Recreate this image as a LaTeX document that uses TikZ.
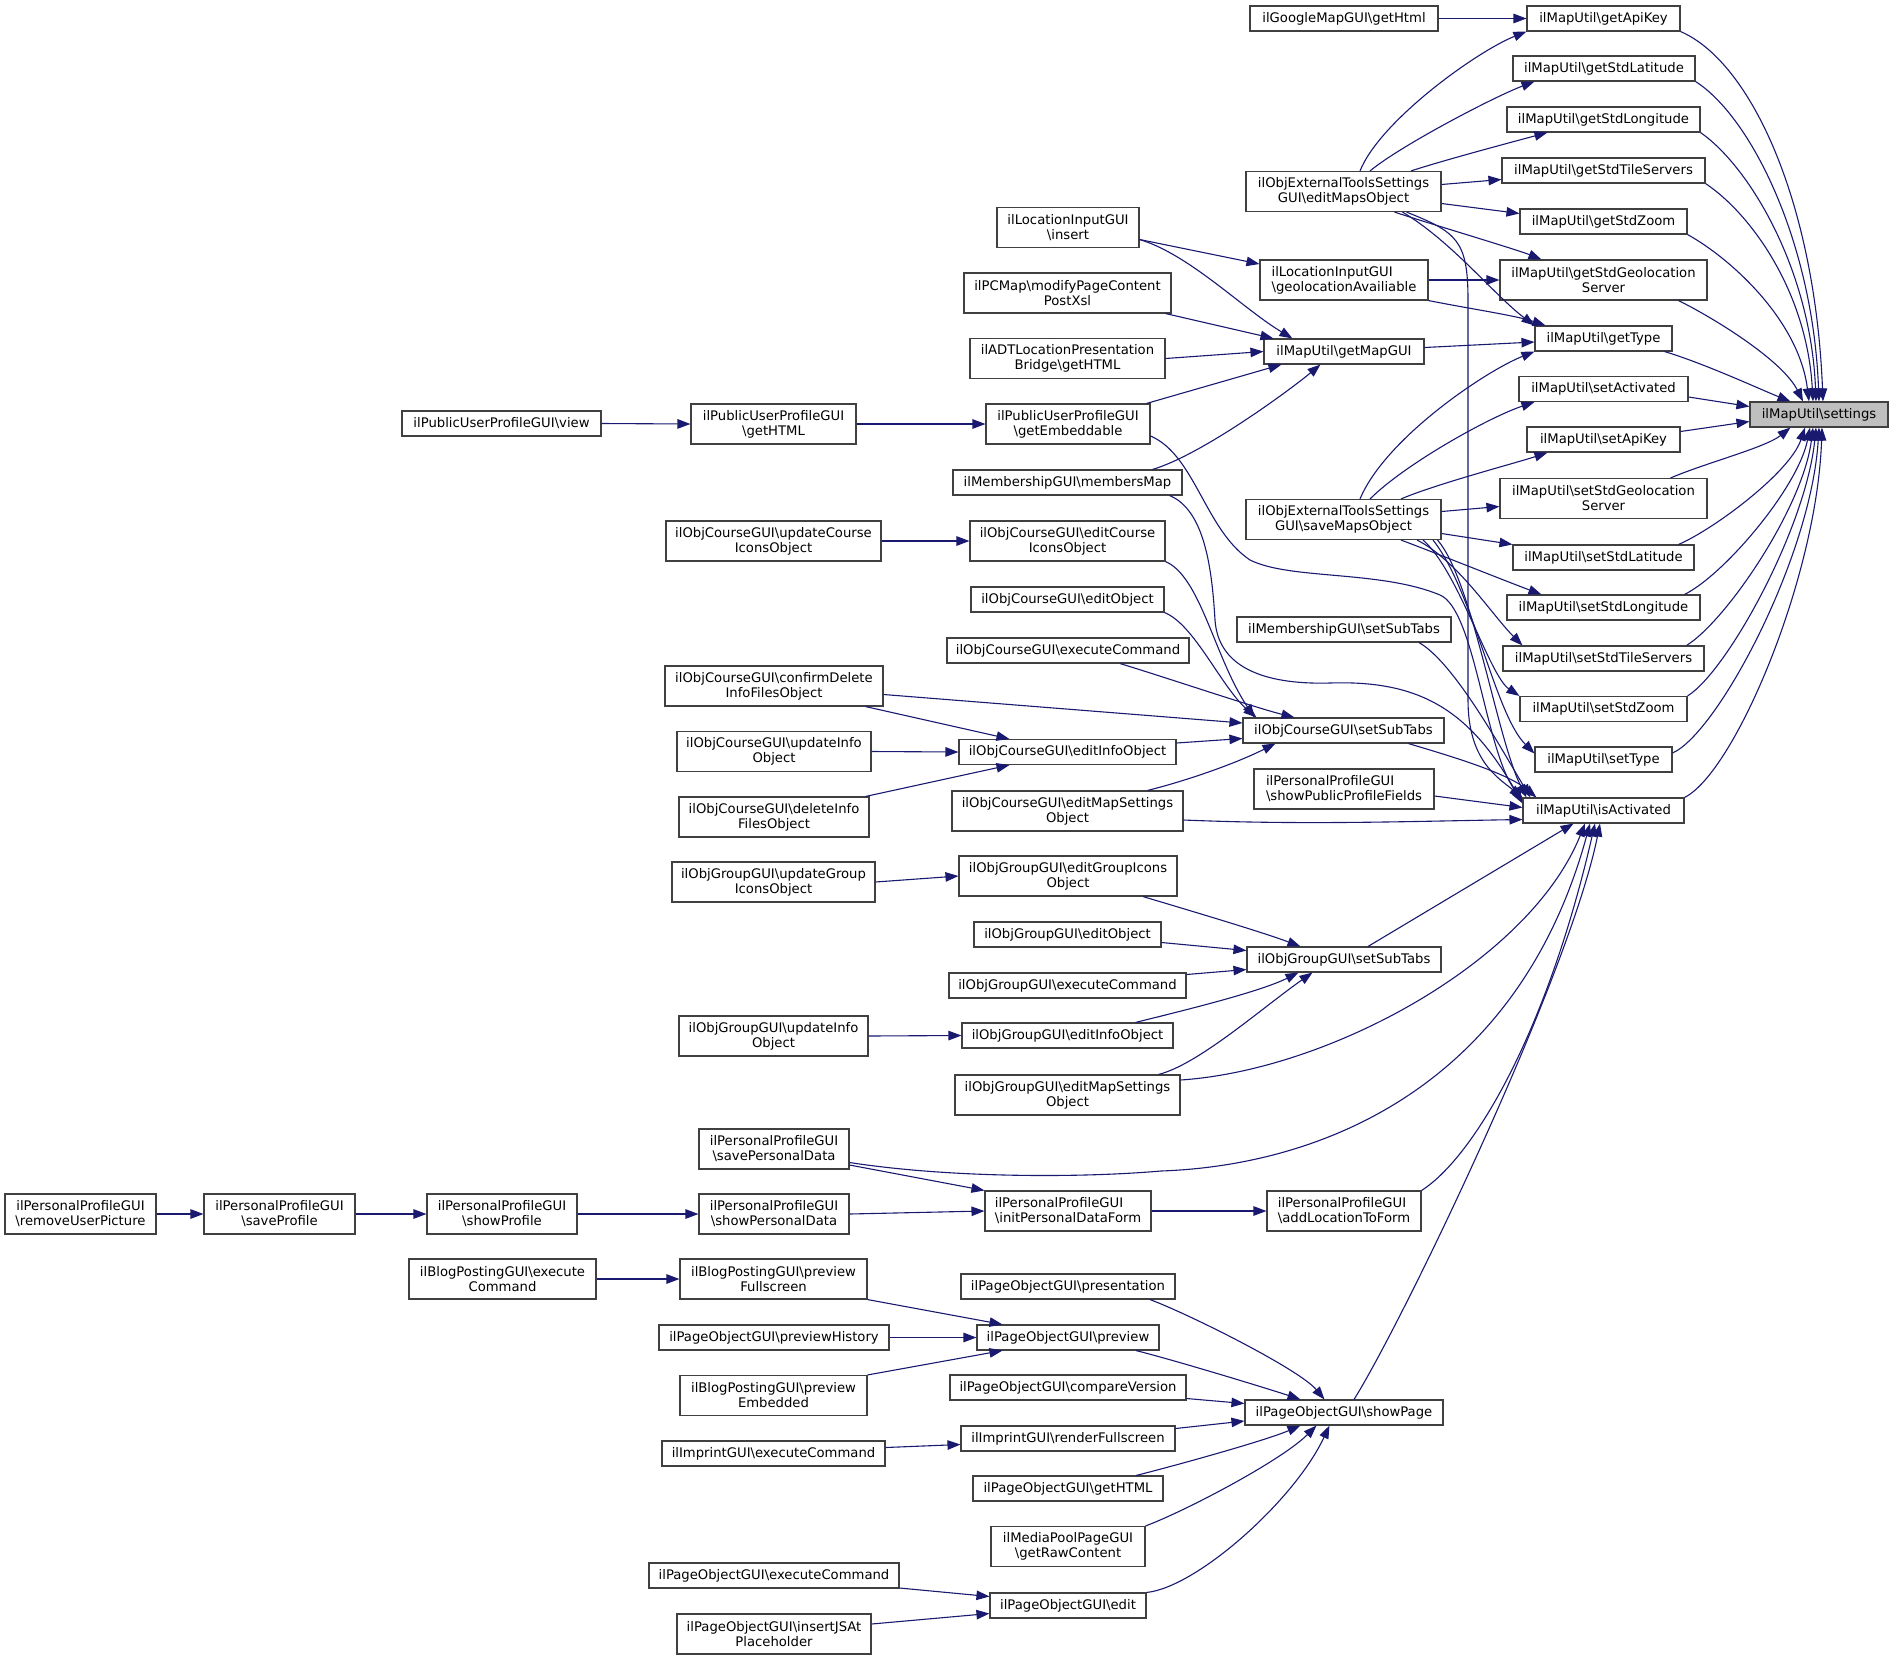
\documentclass[tikz,border=0pt]{standalone}
\usepackage{fontspec}
\setmainfont{DejaVu Sans}
\usetikzlibrary{arrows.meta}
\tikzset{>={Triangle[length=13pt,width=9.5pt]}}
\newcommand{\bsl}{\textbackslash}
\definecolor{cedge}{HTML}{191970}
\definecolor{cbox}{gray}{.25}
\definecolor{croot}{gray}{.75}
\tikzset{
    fnbox/.style={draw=cbox, line width=1.1pt, fill=white, font=\fontsize{13.2}{15}\selectfont, align=center, inner sep=2pt, minimum height=25pt},
    dbl/.style={minimum height=40pt},
    calls/.style={->, draw=cedge, line width=1.1pt}
}

\begin{document}
\begin{tikzpicture}[x=1pt, y=-1pt]
    \useasboundingbox (0,0) rectangle (1893,1663);
    \node[fnbox, fill=croot, minimum width=138pt] (settings) at (1819,414.5) {ilMapUtil\bsl settings};
    % ilMapUtil
    \node[fnbox, minimum width=153pt] (getApiKey) at (1603.5,18.5) {ilMapUtil\bsl getApiKey};
    \node[fnbox, minimum width=182pt] (getStdLatitude) at (1604,68.5) {ilMapUtil\bsl getStdLatitude};
    \node[fnbox, minimum width=193pt] (getStdLongitude) at (1603.5,119.5) {ilMapUtil\bsl getStdLongitude};
    \node[fnbox, minimum width=203pt] (getStdTileServers) at (1603.5,170.5) {ilMapUtil\bsl getStdTileServers};
    \node[fnbox, minimum width=167pt] (getStdZoom) at (1603.5,221.5) {ilMapUtil\bsl getStdZoom};
    \node[fnbox, dbl, minimum width=207pt] (getStdGeo) at (1603.5,280) {ilMapUtil\bsl getStdGeolocation\\Server};
    \node[fnbox, minimum width=137pt] (getType) at (1603.5,338.5) {ilMapUtil\bsl getType};
    \node[fnbox, minimum width=169pt] (setActivated) at (1603.5,389) {ilMapUtil\bsl setActivated};
    \node[fnbox, minimum width=153pt] (setApiKey) at (1603.5,439.5) {ilMapUtil\bsl setApiKey};
    \node[fnbox, dbl, minimum width=207pt] (setStdGeo) at (1603.5,498.5) {ilMapUtil\bsl setStdGeolocation\\Server};
    \node[fnbox, minimum width=181pt] (setStdLatitude) at (1603.5,557.5) {ilMapUtil\bsl setStdLatitude};
    \node[fnbox, minimum width=193pt] (setStdLongitude) at (1603.5,607.5) {ilMapUtil\bsl setStdLongitude};
    \node[fnbox, minimum width=201pt] (setStdTileServers) at (1603.5,658.5) {ilMapUtil\bsl setStdTileServers};
    \node[fnbox, minimum width=167pt] (setStdZoom) at (1603.5,709) {ilMapUtil\bsl setStdZoom};
    \node[fnbox, minimum width=137pt] (setType) at (1603.5,759.5) {ilMapUtil\bsl setType};
    \node[fnbox, minimum width=161pt] (isActivated) at (1603.5,810.5) {ilMapUtil\bsl isActivated};
    % third column
    \node[fnbox, minimum width=188pt] (googleHtml) at (1344,18.5) {ilGoogleMapGUI\bsl getHtml};
    \node[fnbox, dbl, minimum width=195pt] (editMaps) at (1343.5,191.5) {ilObjExternalToolsSettings\\GUI\bsl editMapsObject};
    \node[fnbox, dbl, align=left, minimum width=168pt] (geoAvail) at (1344,280) {ilLocationInputGUI\\\bsl geolocationAvailiable};
    \node[fnbox, minimum width=160pt] (getMapGUI) at (1344,351.5) {ilMapUtil\bsl getMapGUI};
    \node[fnbox, dbl, minimum width=195pt] (saveMaps) at (1343.5,519.5) {ilObjExternalToolsSettings\\GUI\bsl saveMapsObject};
    \node[fnbox, minimum width=214pt] (membSubTabs) at (1344,629.5) {ilMembershipGUI\bsl setSubTabs};
    \node[fnbox, minimum width=201pt] (courseSubTabs) at (1343.5,730.5) {ilObjCourseGUI\bsl setSubTabs};
    \node[fnbox, dbl, align=left, minimum width=180pt] (showPublic) at (1344,789) {ilPersonalProfileGUI\\\bsl showPublicProfileFields};
    \node[fnbox, minimum width=194pt] (groupSubTabs) at (1344,959.5) {ilObjGroupGUI\bsl setSubTabs};
    \node[fnbox, dbl, align=left, minimum width=154pt] (addLocation) at (1344,1211) {ilPersonalProfileGUI\\\bsl addLocationToForm};
    \node[fnbox, minimum width=198pt] (showPage) at (1344,1412.5) {ilPageObjectGUI\bsl showPage};
    % fourth column
    \node[fnbox, dbl, minimum width=142pt] (insert) at (1068,227.5) {ilLocationInputGUI\\\bsl insert};
    \node[fnbox, dbl, minimum width=207pt] (modifyPC) at (1067.5,293) {ilPCMap\bsl modifyPageContent\\PostXsl};
    \node[fnbox, dbl, minimum width=195pt] (adtLoc) at (1067.5,358.5) {ilADTLocationPresentation\\Bridge\bsl getHTML};
    \node[fnbox, dbl, minimum width=164pt] (getEmbeddable) at (1068,424) {ilPublicUserProfileGUI\\\bsl getEmbeddable};
    \node[fnbox, minimum width=229pt] (membersMap) at (1067.5,482.5) {ilMembershipGUI\bsl membersMap};
    \node[fnbox, dbl, minimum width=195pt] (editCourseIcons) at (1067.5,541) {ilObjCourseGUI\bsl editCourse\\IconsObject};
    \node[fnbox, minimum width=193pt] (courseEditObj) at (1067.5,599.5) {ilObjCourseGUI\bsl editObject};
    \node[fnbox, minimum width=242pt] (courseExec) at (1068,650.5) {ilObjCourseGUI\bsl executeCommand};
    \node[fnbox, minimum width=217pt] (courseEditInfo) at (1067.5,752) {ilObjCourseGUI\bsl editInfoObject};
    \node[fnbox, dbl, minimum width=231pt] (courseEditMap) at (1067.5,811) {ilObjCourseGUI\bsl editMapSettings\\Object};
    \node[fnbox, dbl, minimum width=218pt] (editGroupIcons) at (1068,876) {ilObjGroupGUI\bsl editGroupIcons\\Object};
    \node[fnbox, minimum width=187pt] (groupEditObj) at (1067.5,934.5) {ilObjGroupGUI\bsl editObject};
    \node[fnbox, minimum width=237pt] (groupExec) at (1067.5,985.5) {ilObjGroupGUI\bsl executeCommand};
    \node[fnbox, minimum width=211pt] (groupEditInfo) at (1067.5,1035.5) {ilObjGroupGUI\bsl editInfoObject};
    \node[fnbox, dbl, minimum width=225pt] (groupEditMap) at (1067.5,1095) {ilObjGroupGUI\bsl editMapSettings\\Object};
    \node[fnbox, dbl, align=left, minimum width=166pt] (initPDF) at (1068,1211) {ilPersonalProfileGUI\\\bsl initPersonalDataForm};
    \node[fnbox, minimum width=214pt] (presentation) at (1068,1286.5) {ilPageObjectGUI\bsl presentation};
    \node[fnbox, minimum width=182pt] (preview) at (1068,1337.5) {ilPageObjectGUI\bsl preview};
    \node[fnbox, minimum width=236pt] (compareVersion) at (1068,1387.5) {ilPageObjectGUI\bsl compareVersion};
    \node[fnbox, minimum width=214pt] (renderFull) at (1068,1438.5) {ilImprintGUI\bsl renderFullscreen};
    \node[fnbox, minimum width=190pt] (pageHTML) at (1068,1488.5) {ilPageObjectGUI\bsl getHTML};
    \node[fnbox, dbl, minimum width=154pt] (rawContent) at (1068,1546.5) {ilMediaPoolPageGUI\\\bsl getRawContent};
    \node[fnbox, minimum width=156pt] (edit) at (1068,1605.5) {ilPageObjectGUI\bsl edit};
    % fifth column
    \node[fnbox, dbl, minimum width=165pt] (publicHTML) at (773.5,424) {ilPublicUserProfileGUI\\\bsl getHTML};
    \node[fnbox, dbl, minimum width=215pt] (updateCourseIcons) at (773.5,541) {ilObjCourseGUI\bsl updateCourse\\IconsObject};
    \node[fnbox, dbl, minimum width=218pt] (confirmDelete) at (774,686) {ilObjCourseGUI\bsl confirmDelete\\InfoFilesObject};
    \node[fnbox, dbl, minimum width=194pt] (courseUpdateInfo) at (774,751.5) {ilObjCourseGUI\bsl updateInfo\\Object};
    \node[fnbox, dbl, minimum width=190pt] (deleteInfo) at (774,817) {ilObjCourseGUI\bsl deleteInfo\\FilesObject};
    \node[fnbox, dbl, minimum width=203pt] (updateGroupIcons) at (773.5,882) {ilObjGroupGUI\bsl updateGroup\\IconsObject};
    \node[fnbox, dbl, minimum width=189pt] (groupUpdateInfo) at (773.5,1036) {ilObjGroupGUI\bsl updateInfo\\Object};
    \node[fnbox, dbl, minimum width=150pt] (savePD) at (774,1149) {ilPersonalProfileGUI\\\bsl savePersonalData};
    \node[fnbox, dbl, minimum width=150pt] (showPD) at (774,1214) {ilPersonalProfileGUI\\\bsl showPersonalData};
    \node[fnbox, dbl, minimum width=187pt] (previewFull) at (773.5,1279) {ilBlogPostingGUI\bsl preview\\Fullscreen};
    \node[fnbox, minimum width=230pt] (previewHistory) at (774,1337.5) {ilPageObjectGUI\bsl previewHistory};
    \node[fnbox, dbl, minimum width=187pt] (previewEmb) at (773.5,1395.5) {ilBlogPostingGUI\bsl preview\\Embedded};
    \node[fnbox, minimum width=223pt] (imprintExec) at (773.5,1453.5) {ilImprintGUI\bsl executeCommand};
    \node[fnbox, minimum width=250pt] (pageExec) at (774,1575.5) {ilPageObjectGUI\bsl executeCommand};
    \node[fnbox, dbl, minimum width=194pt] (insertJS) at (774,1634) {ilPageObjectGUI\bsl insertJSAt\\Placeholder};
    % left columns
    \node[fnbox, minimum width=199pt] (view) at (501.5,423.5) {ilPublicUserProfileGUI\bsl view};
    \node[fnbox, dbl, minimum width=150pt] (showProfile) at (502,1214) {ilPersonalProfileGUI\\\bsl showProfile};
    \node[fnbox, dbl, minimum width=187pt] (blogExec) at (502.5,1279) {ilBlogPostingGUI\bsl execute\\Command};
    \node[fnbox, dbl, minimum width=151pt] (saveProfile) at (279.5,1214) {ilPersonalProfileGUI\\\bsl saveProfile};
    \node[fnbox, dbl, minimum width=151pt] (removePic) at (80.5,1214) {ilPersonalProfileGUI\\\bsl removeUserPicture};

    % into settings
    \draw[calls] (getApiKey.south east) .. controls +(70,30) and +(-8,-200) .. ([xshift=4pt]settings.north);
    \draw[calls] (getStdLatitude.south east) .. controls +(55,35) and +(-6,-160) .. (settings.north);
    \draw[calls] (getStdLongitude.south east) .. controls +(50,35) and +(-5,-130) .. ([xshift=-3pt]settings.north);
    \draw[calls] (getStdTileServers.south east) .. controls +(45,30) and +(-6,-110) .. ([xshift=-6pt]settings.north);
    \draw[calls] (getStdZoom.south east) .. controls +(45,25) and +(-10,-80) .. ([xshift=-10pt]settings.north);
    \draw[calls] ([xshift=-29pt]getStdGeo.south east) .. controls +(40,20) and +(-20,-40) .. ([xshift=-16pt]settings.north);
    \draw[calls] ([xshift=-8pt]getType.south east) .. controls +(40,12) and +(-30,-12) .. ([xshift=41pt]settings.north west);
    \draw[calls] ([yshift=-8pt]setActivated.east) -- ([yshift=8pt]settings.west);
    \draw[calls] ([yshift=8pt]setApiKey.east) -- ([yshift=-7pt]settings.west);
    \draw[calls] ([xshift=-37pt]setStdGeo.north east) .. controls +(35,-15) and +(-25,20) .. ([xshift=41pt]settings.south west);
    \draw[calls] ([xshift=-16pt]setStdLatitude.north east) .. controls +(35,-15) and +(-15,45) .. ([xshift=-14pt]settings.south);
    \draw[calls] ([xshift=-16pt]setStdLongitude.north east) .. controls +(40,-20) and +(-12,60) .. ([xshift=-9pt]settings.south);
    \draw[calls] ([xshift=-18pt]setStdTileServers.north east) .. controls +(40,-25) and +(-10,80) .. ([xshift=-6pt]settings.south);
    \draw[calls] (setStdZoom.north east) .. controls +(40,-25) and +(-10,100) .. ([xshift=-3pt]settings.south);
    \draw[calls] ([yshift=6.5pt]setType.east) .. controls +(45,-20) and +(-8,130) .. (settings.south);
    \draw[calls] (isActivated.north east) .. controls +(50,-25) and +(-5,150) .. ([xshift=3pt]settings.south);

    % editMapsObject, saveMapsObject
    \draw[calls] (googleHtml.east) -- (getApiKey.west);
    \draw[calls] ([xshift=16.5pt]editMaps.north) .. controls +(20,-50) and +(-50,20) .. (getApiKey.south west);
    \draw[calls] ([xshift=26.5pt]editMaps.north) .. controls +(30,-25) and +(-40,15) .. ([xshift=22pt]getStdLatitude.south west);
    \draw[calls] ([xshift=67.5pt]editMaps.north) .. controls +(30,-10) and +(-30,8) .. ([xshift=41pt]getStdLongitude.south west);
    \draw[calls] ([yshift=7pt]editMaps.east) -- ([yshift=-9pt]getStdTileServers.west);
    \draw[calls] ([yshift=-12pt]editMaps.east) -- ([yshift=8pt]getStdZoom.west);
    \draw[calls] ([xshift=51pt]editMaps.south) .. controls +(30,10) and +(-25,-10) .. ([xshift=42pt]getStdGeo.north west);
    \draw[calls] ([xshift=59pt]editMaps.south) .. controls +(50,30) and +(-40,-30) .. (getType.north west);
    \draw[calls] ([xshift=63pt]editMaps.south) .. controls +(50,20) and +(0,-60) .. (1468,300) -- (1468,700) .. controls +(0,60) and +(-25,-20) .. (isActivated.north west);
    \draw[calls] (geoAvail.east) -- (getStdGeo.west);
    \draw[calls] (geoAvail.south east) .. controls +(40,8) and +(-30,-10) .. ([xshift=11pt]getType.north west);
    \draw[calls] ([yshift=4pt]getMapGUI.east) -- ([yshift=-3.5pt]getType.west);
    \draw[calls] ([xshift=16.5pt]saveMaps.north) .. controls +(25,-60) and +(-50,20) .. (getType.south west);
    \draw[calls] ([xshift=26.5pt]saveMaps.north) .. controls +(35,-35) and +(-45,15) .. ([xshift=16pt]setActivated.south west);
    \draw[calls] ([xshift=57.5pt]saveMaps.north) .. controls +(35,-15) and +(-30,10) .. ([xshift=21pt]setApiKey.south west);
    \draw[calls] ([yshift=8pt]saveMaps.east) -- ([yshift=-8pt]setStdGeo.west);
    \draw[calls] ([yshift=-14pt]saveMaps.east) -- (setStdLatitude.north west);
    \draw[calls] ([xshift=57.5pt]saveMaps.south) .. controls +(40,15) and +(-40,-15) .. ([xshift=35pt]setStdLongitude.north west);
    \draw[calls] ([xshift=73.5pt]saveMaps.south) .. controls +(40,20) and +(-30,-30) .. ([xshift=20pt]setStdTileServers.north west);
    \draw[calls] ([xshift=79.5pt]saveMaps.south) .. controls +(35,30) and +(-30,-20) .. (setStdZoom.north west);
    \draw[calls] ([xshift=89.5pt]saveMaps.south) .. controls +(40,50) and +(-40,-40) .. ([yshift=6pt]setType.west);
    \draw[calls] ([xshift=94pt]saveMaps.south) .. controls +(35,40) and +(-30,-60) .. ([xshift=4pt]isActivated.north west);

    % getMapGUI
    \draw[calls] ([yshift=-12pt]insert.east) -- ([yshift=16pt]geoAvail.west);
    \draw[calls] ([yshift=-12pt]insert.east) .. controls +(50,15) and +(-50,-30) .. ([xshift=29pt]getMapGUI.north west);
    \draw[calls] ([xshift=-6pt]modifyPC.south east) -- ([xshift=10pt]getMapGUI.north west);
    \draw[calls] (adtLoc.east) -- (getMapGUI.west);
    \draw[calls] ([xshift=-4pt]getEmbeddable.north east) -- ([xshift=18pt]getMapGUI.south west);
    \draw[calls] ([xshift=-30pt]membersMap.north east) .. controls +(50,-15) and +(-30,25) .. ([xshift=57pt]getMapGUI.south west);
    \draw[calls] (view.east) -- (publicHTML.west);
    \draw[calls] (publicHTML.east) -- (getEmbeddable.west);

    % isActivated
    \draw[calls] ([yshift=-12pt]getEmbeddable.east) .. controls (1195,455) and (1205,530) .. (1250,560) .. controls (1290,580) and (1380,570) .. (1440,595) .. controls (1475,610) and (1485,750) .. ([yshift=-3pt]isActivated.north west);
    \draw[calls] ([xshift=-13pt]membersMap.south east) .. controls (1205,510) and (1212,570) .. (1215,620) .. controls (1218,665) and (1260,685) .. (1330,683) .. controls (1420,680) and (1470,710) .. ([yshift=-6pt]isActivated.north west);
    \draw[calls] ([xshift=75pt]membSubTabs.south) .. controls +(35,20) and +(-30,-50) .. ([xshift=8pt]isActivated.north west);
    \draw[calls] ([xshift=65pt]courseSubTabs.south) .. controls +(40,12) and +(-30,-25) .. ([xshift=14pt]isActivated.north west);
    \draw[calls] ([yshift=-7pt]showPublic.east) -- ([yshift=3pt]isActivated.west);
    \draw[calls] ([yshift=-9pt]courseEditMap.east) .. controls +(120,5) and +(-120,2) .. ([yshift=-9pt]isActivated.west);
    \draw[calls] ([xshift=24pt]groupSubTabs.north) -- ([xshift=-30pt]isActivated.south);
    \draw[calls] ([yshift=15pt]groupEditMap.east) .. controls +(150,-10) and +(-55,137) .. ([xshift=-18.5pt]isActivated.south);
    \draw[calls] ([yshift=-13.5pt]savePD.east) .. controls (950,1178) and (1080,1178) .. (1161,1171) .. controls (1330,1165) and (1520,1080) .. ([xshift=-13.5pt]isActivated.south);
    \draw[calls] (addLocation.north east) .. controls +(49,-31) and +(-50,217) .. ([xshift=-8.5pt]isActivated.south);
    \draw[calls] ([xshift=10pt]showPage.north) .. controls +(50,-80) and +(-30,150) .. ([xshift=-3.5pt]isActivated.south);

    % course
    \draw[calls] (updateCourseIcons.east) -- (editCourseIcons.west);
    \draw[calls] (editCourseIcons.south east) .. controls +(35,15) and +(-40,-60) .. ([xshift=12pt]courseSubTabs.north west);
    \draw[calls] (courseEditObj.south east) .. controls +(30,12) and +(-35,-30) .. ([xshift=14pt]courseSubTabs.north west);
    \draw[calls] ([xshift=52pt]courseExec.south) .. controls +(40,12) and +(-40,-10) .. ([xshift=52pt]courseSubTabs.north west);
    \draw[calls] ([yshift=-8.5pt]confirmDelete.east) -- ([yshift=7.5pt]courseSubTabs.west);
    \draw[calls] ([xshift=-18pt]confirmDelete.south east) -- ([xshift=51pt]courseEditInfo.north west);
    \draw[calls] (courseUpdateInfo.east) -- (courseEditInfo.west);
    \draw[calls] ([xshift=-4pt]deleteInfo.north east) -- ([xshift=51pt]courseEditInfo.south west);
    \draw[calls] ([yshift=9pt]courseEditInfo.east) -- ([yshift=-8pt]courseSubTabs.west);
    \draw[calls] ([xshift=80pt]courseEditMap.north) .. controls +(40,-10) and +(-40,20) .. ([xshift=33pt]courseSubTabs.south west);

    % group
    \draw[calls] (updateGroupIcons.east) -- (editGroupIcons.west);
    \draw[calls] ([xshift=75pt]editGroupIcons.south) .. controls +(40,12) and +(-40,-15) .. ([xshift=54pt]groupSubTabs.north west);
    \draw[calls] ([yshift=-8pt]groupEditObj.east) -- ([yshift=9pt]groupSubTabs.west);
    \draw[calls] ([yshift=11pt]groupExec.east) -- ([yshift=-10pt]groupSubTabs.west);
    \draw[calls] (groupUpdateInfo.east) -- (groupEditInfo.west);
    \draw[calls] ([xshift=68pt]groupEditInfo.north) .. controls +(40,-10) and +(-40,20) .. ([xshift=52pt]groupSubTabs.south west);
    \draw[calls] ([xshift=91pt]groupEditMap.north) .. controls +(40,-10) and +(-50,35) .. ([xshift=66pt]groupSubTabs.south west);

    % personal profile
    \draw[calls] (removePic.east) -- (saveProfile.west);
    \draw[calls] (saveProfile.east) -- (showProfile.west);
    \draw[calls] (showProfile.east) -- (showPD.west);
    \draw[calls] ([yshift=-16pt]savePD.east) -- (initPDF.north west);
    \draw[calls] (showPD.east) -- (initPDF.west);
    \draw[calls] (initPDF.east) -- (addLocation.west);

    % page object
    \draw[calls] (blogExec.east) -- (previewFull.west);
    \draw[calls] (previewFull.south east) -- ([xshift=26pt]preview.north west);
    \draw[calls] (previewHistory.east) -- (preview.west);
    \draw[calls] (previewEmb.north east) -- ([xshift=26pt]preview.south west);
    \draw[calls] ([xshift=82pt]presentation.south) .. controls +(40,15) and +(-25,-30) .. ([xshift=80pt]showPage.north west);
    \draw[calls] ([xshift=68pt]preview.south) .. controls +(40,10) and +(-30,-10) .. ([xshift=56pt]showPage.north west);
    \draw[calls] ([yshift=-11pt]compareVersion.east) -- ([yshift=9pt]showPage.west);
    \draw[calls] ([yshift=10pt]renderFull.east) -- ([yshift=-8.5pt]showPage.west);
    \draw[calls] ([yshift=6pt]imprintExec.east) -- ([yshift=-6pt]renderFull.west);
    \draw[calls] ([xshift=68pt]pageHTML.north) .. controls +(40,-10) and +(-35,15) .. ([xshift=56pt]showPage.south west);
    \draw[calls] (rawContent.north east) .. controls +(40,-15) and +(-35,35) .. ([xshift=72pt]showPage.south west);
    \draw[calls] (edit.north east) .. controls +(50,-5) and +(-35,75) .. ([xshift=85pt]showPage.south west);
    \draw[calls] ([yshift=-12.5pt]pageExec.east) -- ([yshift=9pt]edit.west);
    \draw[calls] ([yshift=10pt]insertJS.east) -- ([yshift=-8pt]edit.west);
\end{tikzpicture}
\end{document}
